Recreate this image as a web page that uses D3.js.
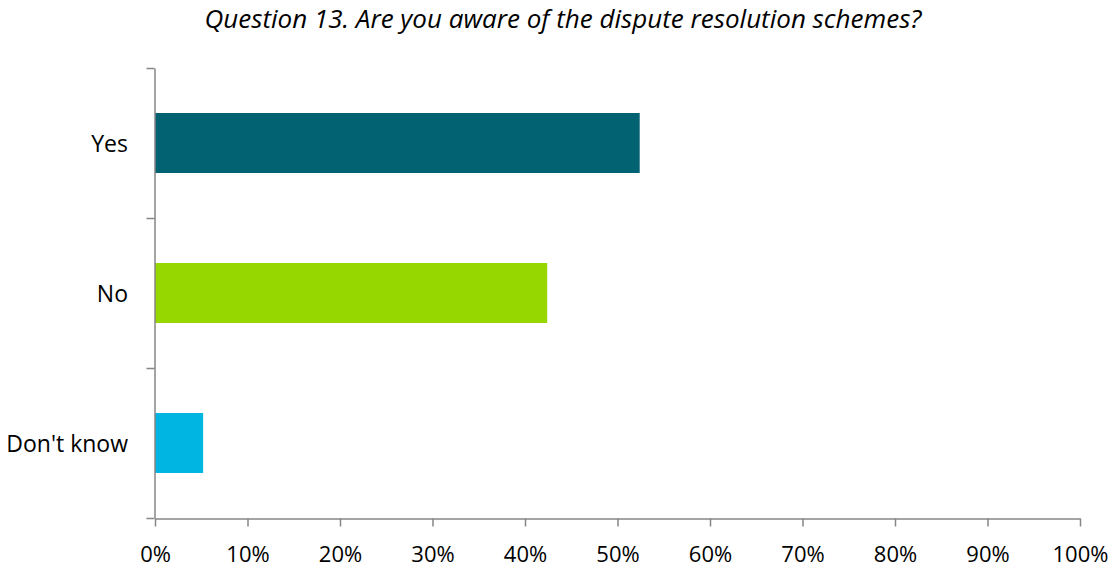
<!DOCTYPE html>
<html>
<head>
<meta charset="utf-8">
<script src="https://cdn.jsdelivr.net/npm/d3@7"></script>
<style>
  body { margin: 0; background: #fff; }
  text { font-family: "Open Sans", "Liberation Sans", sans-serif; fill: #000; }
</style>
</head>
<body>
<svg id="canvas"></svg>
<script>
const categories = ["Yes", "No", "Don't know"];
const values = [52.4, 42.4, 5.2];
const colors = ["#026272", "#97D700", "#00B5E2"];
const xTicks = [0, 10, 20, 30, 40, 50, 60, 70, 80, 90, 100];
const title = "Question 13. Are you aware of the dispute resolution schemes?";

const width = 1112;
const height = 567;
const plotLeft = 155;
const plotRight = 1080;
const plotTop = 68;
const plotBottom = 518;
const axisColor = "#868686";

const canvas = d3.select("#canvas").attr("width", width).attr("height", height);

const xScale = d3.scaleLinear().domain([0, 100]).range([plotLeft, plotRight]);
const yScale = d3.scaleBand()
  .domain(categories)
  .range([plotTop, plotBottom])
  .paddingInner(0.6)
  .paddingOuter(0.3);
const yEdges = d3.scaleLinear().domain([0, categories.length]).range([plotTop, plotBottom]);

// bars
canvas
  .selectAll("rect")
  .data(values)
  .enter()
  .append("rect")
  .attr("x", xScale(0))
  .attr("y", (d, i) => yScale(categories[i]))
  .attr("width", (d) => xScale(d) - xScale(0))
  .attr("height", yScale.bandwidth())
  .attr("fill", (d, i) => colors[i]);

// y axis: ticks on category edges
const yAxis = d3.axisLeft(yEdges)
  .tickValues(d3.range(categories.length + 1))
  .tickFormat("")
  .tickSize(8)
  .tickSizeOuter(0);
const gy = canvas.append("g").attr("transform", `translate(${plotLeft - 0.5}, 0)`).call(yAxis);
gy.selectAll("path, line").attr("stroke", axisColor).attr("stroke-width", 1.5);

canvas
  .selectAll(".ylabel")
  .data(categories)
  .enter()
  .append("text")
  .attr("class", "ylabel")
  .attr("x", 128)
  .attr("y", (d) => yScale(d) + yScale.bandwidth() / 2 + 1)
  .attr("dy", "0.35em")
  .attr("text-anchor", "end")
  .style("font-size", "23px")
  .text((d) => d);

// x axis
const xAxis = d3.axisBottom(xScale)
  .tickValues(xTicks)
  .tickFormat((d) => d + "%")
  .tickSize(8)
  .tickSizeOuter(0)
  .tickPadding(20);
const gx = canvas.append("g").attr("transform", `translate(0, ${plotBottom + 0.5})`).call(xAxis);
gx.selectAll("path, line").attr("stroke", axisColor).attr("stroke-width", 1.5);
gx.selectAll("text").style("font-size", "22px").attr("fill", "#000");

// title
canvas
  .append("text")
  .attr("x", 563)
  .attr("y", 28)
  .attr("text-anchor", "middle")
  .style("font-size", "26px")
  .style("font-style", "italic")
  .text(title);
</script>
</body>
</html>
